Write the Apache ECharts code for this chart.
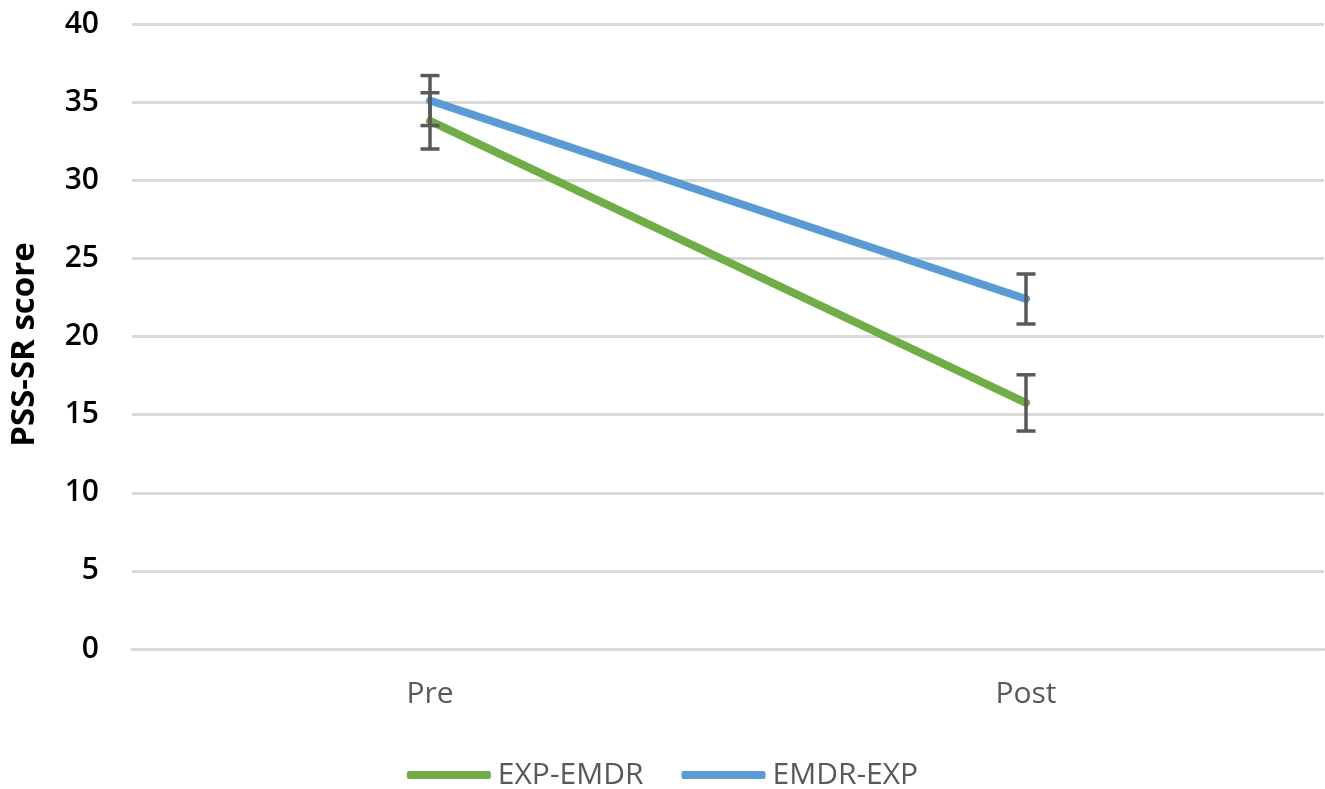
<!DOCTYPE html>
<html><head><meta charset="utf-8">
<script src="https://cdn.jsdelivr.net/npm/echarts@6/dist/echarts.min.js"></script>
<style>html,body{margin:0;padding:0;background:#fff}#c{width:1325px;height:789px}</style>
</head><body><div id="c"></div>
<script>
const categories = ['Pre', 'Post'];
const yTicks = [0, 5, 10, 15, 20, 25, 30, 35, 40];
const expEmdr = [33.8, 15.75];
const expEmdrErr = [1.8, 1.8];
const emdrExp = [35.1, 22.4];
const emdrExpErr = [1.6, 1.6];

const chart = echarts.init(document.getElementById('c'));
function errData(vals, errs) {
  return vals.map((v, i) => [i, v - errs[i], v + errs[i]]);
}
function renderErr(params, api) {
  const x = api.value(0);
  const lo = api.coord([x, api.value(1)]);
  const hi = api.coord([x, api.value(2)]);
  const w = 9.5;
  const style = { stroke: '#595959', lineWidth: 3.5 };
  return { type: 'group', children: [
    { type: 'line', shape: { x1: lo[0], y1: lo[1], x2: hi[0], y2: hi[1] }, style },
    { type: 'line', shape: { x1: lo[0] - w, y1: lo[1], x2: lo[0] + w, y2: lo[1] }, style },
    { type: 'line', shape: { x1: hi[0] - w, y1: hi[1], x2: hi[0] + w, y2: hi[1] }, style }
  ]};
}
chart.setOption({
  animation: false,
  grid: { left: 129, right: 1, top: 24, bottom: 140 },
  legend: {
    top: 755, left: 'center', itemWidth: 84, itemHeight: 8, itemGap: 38,
    textStyle: { fontFamily: 'Open Sans', fontSize: 30, color: '#595959', padding: [0, 0, 0, 2] },
    data: [
      { name: 'EXP-EMDR', icon: 'roundRect' },
      { name: 'EMDR-EXP', icon: 'roundRect' }
    ]
  },
  xAxis: {
    type: 'category', data: categories, boundaryGap: true,
    axisLine: { show: true, lineStyle: { color: '#d9d9d9', width: 3 } },
    axisTick: { show: false },
    axisLabel: { fontFamily: 'Open Sans', fontSize: 30, color: '#595959', margin: 30 }
  },
  yAxis: {
    type: 'value', min: yTicks[0], max: yTicks[yTicks.length - 1], interval: 5,
    name: 'PSS-SR score', nameLocation: 'middle', nameGap: 91, nameRotate: 90,
    nameTextStyle: { fontFamily: 'Open Sans', fontSize: 33, fontWeight: 'bold', color: '#000', padding: [0, 16, 0, 0] },
    axisLine: { show: false }, axisTick: { show: false },
    axisLabel: { fontFamily: 'Open Sans', fontSize: 30, fontWeight: 600, color: '#000', margin: 33 },
    splitLine: { lineStyle: { color: '#d9d9d9', width: 3 } }
  },
  series: [
    { name: 'EXP-EMDR', type: 'line', data: expEmdr, symbol: 'none',
      lineStyle: { color: '#70AD47', width: 8, cap: 'round' }, itemStyle: { color: '#70AD47' }, z: 3 },
    { name: 'EMDR-EXP', type: 'line', data: emdrExp, symbol: 'none',
      lineStyle: { color: '#5B9BD5', width: 8, cap: 'round' }, itemStyle: { color: '#5B9BD5' }, z: 3 },
    { type: 'custom', renderItem: renderErr, data: errData(expEmdr, expEmdrErr), z: 4, silent: true },
    { type: 'custom', renderItem: renderErr, data: errData(emdrExp, emdrExpErr), z: 4, silent: true }
  ]
});
</script></body></html>
